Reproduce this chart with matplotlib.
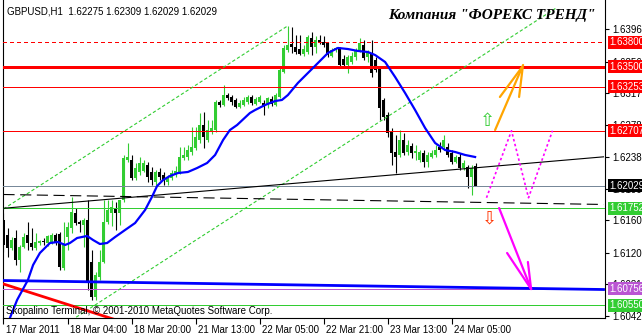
import numpy as np
import matplotlib
matplotlib.use("Agg")
import matplotlib.pyplot as plt
import matplotlib.transforms as mtransforms

plt.rcParams['font.family'] = ['Liberation Sans', 'DejaVu Sans']

# GBPUSD H1, bar 0 = 17 Mar 2011 12:00
opens = [1.61605, 1.61420, 1.61260, 1.61383, 1.61111, 1.61272, 1.61420, 1.61321, 1.61260, 1.61321,
         1.61346, 1.61321, 1.61334, 1.61420, 1.61432, 1.61013, 1.61395, 1.61506, 1.61692, 1.61581,
         1.61543, 1.61605, 1.61087, 1.60655, 1.60901, 1.61087, 1.61581, 1.61692, 1.61753, 1.61692,
         1.61852, 1.62346, 1.62346, 1.62124, 1.62198, 1.62210, 1.62284, 1.62198, 1.62074, 1.62198,
         1.62161, 1.62074, 1.62124, 1.62161, 1.62198, 1.62371, 1.62383, 1.62445, 1.62494, 1.62593,
         1.62778, 1.62593, 1.62692, 1.62716, 1.63062, 1.63025, 1.63148, 1.63124, 1.63087, 1.63000,
         1.63025, 1.63062, 1.63124, 1.63037, 1.63062, 1.63050, 1.63025, 1.63099, 1.63025, 1.63124,
         1.63432, 1.63704, 1.63778, 1.63741, 1.63716, 1.63655, 1.63679, 1.63852, 1.63741, 1.63827,
         1.63803, 1.63790, 1.63630, 1.63704, 1.63729, 1.63593, 1.63519, 1.63556, 1.63618, 1.63704,
         1.63766, 1.63618, 1.63667, 1.63581, 1.63482, 1.63087, 1.62902, 1.62692, 1.62445, 1.62408,
         1.62593, 1.62445, 1.62519, 1.62432, 1.62346, 1.62432, 1.62321, 1.62383, 1.62408, 1.62506,
         1.62506, 1.62506, 1.62432, 1.62321, 1.62383, 1.62247, 1.62260, 1.62136, 1.62275]
highs = [1.61692, 1.61506, 1.61395, 1.61482, 1.61297, 1.61445, 1.61581, 1.61506, 1.61445, 1.61358,
         1.61383, 1.61420, 1.61445, 1.61445, 1.61457, 1.61581, 1.61581, 1.61889, 1.61753, 1.61605,
         1.61630, 1.61852, 1.61235, 1.60963, 1.61235, 1.61852, 1.61852, 1.61852, 1.61827, 1.61852,
         1.62408, 1.62556, 1.62408, 1.62309, 1.62383, 1.62346, 1.62321, 1.62260, 1.62222, 1.62247,
         1.62198, 1.62161, 1.62222, 1.62272, 1.62506, 1.62506, 1.62531, 1.62753, 1.62753, 1.62926,
         1.62939, 1.62840, 1.62840, 1.63087, 1.63087, 1.63272, 1.63173, 1.63148, 1.63111, 1.63087,
         1.63124, 1.63148, 1.63148, 1.63124, 1.63148, 1.63087, 1.63124, 1.63136, 1.63173, 1.63494,
         1.63766, 1.64000, 1.63988, 1.63889, 1.63889, 1.63766, 1.63889, 1.63926, 1.63877, 1.63889,
         1.63877, 1.63803, 1.63729, 1.63741, 1.63741, 1.63642, 1.63642, 1.63679, 1.63729, 1.63852,
         1.63827, 1.63704, 1.63827, 1.63618, 1.63506, 1.63111, 1.62939, 1.62741, 1.62655, 1.62716,
         1.62679, 1.62593, 1.62556, 1.62531, 1.62469, 1.62469, 1.62445, 1.62469, 1.62531, 1.62568,
         1.62655, 1.62556, 1.62469, 1.62408, 1.62432, 1.62346, 1.62284, 1.62284, 1.62309]
lows = [1.61210, 1.61148, 1.61235, 1.61050, 1.60963, 1.61260, 1.61235, 1.61235, 1.61235, 1.61297,
        1.61297, 1.61284, 1.61309, 1.61297, 1.60988, 1.60988, 1.61235, 1.61445, 1.61543, 1.61457,
        1.61272, 1.60741, 1.60618, 1.60618, 1.60864, 1.61074, 1.61556, 1.61531, 1.61482, 1.61543,
        1.61827, 1.62321, 1.62099, 1.62099, 1.62161, 1.62198, 1.62074, 1.62037, 1.62037, 1.62099,
        1.62037, 1.62037, 1.62099, 1.62136, 1.62173, 1.62346, 1.62346, 1.62408, 1.62469, 1.62556,
        1.62494, 1.62568, 1.62667, 1.62692, 1.63000, 1.63013, 1.63087, 1.63025, 1.62988, 1.62988,
        1.63013, 1.63037, 1.63025, 1.63025, 1.63050, 1.62902, 1.62988, 1.63013, 1.63013, 1.63111,
        1.63420, 1.63679, 1.63667, 1.63655, 1.63642, 1.63630, 1.63655, 1.63642, 1.63667, 1.63778,
        1.63741, 1.63618, 1.63618, 1.63679, 1.63494, 1.63482, 1.63420, 1.63531, 1.63581, 1.63679,
        1.63581, 1.63556, 1.63371, 1.63432, 1.62840, 1.62840, 1.62630, 1.62284, 1.62185, 1.62383,
        1.62408, 1.62408, 1.62371, 1.62346, 1.62321, 1.62260, 1.62260, 1.62371, 1.62383, 1.62445,
        1.62469, 1.62383, 1.62297, 1.62309, 1.62222, 1.62222, 1.62000, 1.61914, 1.62029]
closes = [1.61297, 1.61260, 1.61358, 1.61111, 1.61272, 1.61395, 1.61321, 1.61272, 1.61334, 1.61346,
          1.61334, 1.61408, 1.61420, 1.61334, 1.61025, 1.61321, 1.61519, 1.61704, 1.61568, 1.61556,
          1.61605, 1.60827, 1.60655, 1.60926, 1.61087, 1.61581, 1.61729, 1.61766, 1.61692, 1.61852,
          1.62371, 1.62383, 1.62124, 1.62247, 1.62309, 1.62309, 1.62136, 1.62099, 1.62198, 1.62136,
          1.62099, 1.62124, 1.62185, 1.62210, 1.62383, 1.62408, 1.62469, 1.62506, 1.62630, 1.62778,
          1.62630, 1.62716, 1.62741, 1.63062, 1.63025, 1.63148, 1.63111, 1.63062, 1.63000, 1.63050,
          1.63087, 1.63124, 1.63050, 1.63099, 1.63124, 1.63000, 1.63111, 1.63037, 1.63148, 1.63457,
          1.63729, 1.63766, 1.63741, 1.63679, 1.63655, 1.63716, 1.63865, 1.63741, 1.63827, 1.63803,
          1.63766, 1.63642, 1.63704, 1.63729, 1.63519, 1.63519, 1.63618, 1.63630, 1.63704, 1.63790,
          1.63605, 1.63679, 1.63420, 1.63457, 1.62988, 1.62877, 1.62679, 1.62432, 1.62383, 1.62593,
          1.62432, 1.62531, 1.62432, 1.62457, 1.62445, 1.62321, 1.62408, 1.62432, 1.62469, 1.62469,
          1.62593, 1.62408, 1.62321, 1.62383, 1.62247, 1.62309, 1.62136, 1.62247, 1.62029]

# moving average (bar index, price)
ma_bar = [1.6, 3.4, 6.1, 7.4, 9.1, 11.6, 13.6, 15.4, 16.6, 18.4, 20.9, 22.4, 24.1, 25.9, 27.9,
          30.4, 32.9, 35.4, 37.1, 38.4, 39.9, 41.6, 43.6, 46.1, 48.4, 50.9, 52.9, 54.9, 56.6,
          58.4, 61.6, 62.9, 65.4, 67.9, 69.6, 71.1, 73.6, 76.1, 78.6, 81.1, 83.6, 86.1, 88.6,
          91.1, 92.9, 95.4, 97.9, 100.4, 102.9, 105.4, 107.9, 110.4, 112.9, 115.4, 117.9]
ma_val = [1.60395, 1.60618, 1.60864, 1.61050, 1.61198, 1.61321, 1.61334, 1.61297, 1.61321,
          1.61383, 1.61408, 1.61358, 1.61309, 1.61321, 1.61395, 1.61482, 1.61568, 1.61729,
          1.61889, 1.62025, 1.62099, 1.62148, 1.62185, 1.62198, 1.62247, 1.62309, 1.62408,
          1.62593, 1.62716, 1.62778, 1.62926, 1.62963, 1.63025, 1.63074, 1.63087, 1.63148,
          1.63297, 1.63420, 1.63543, 1.63667, 1.63729, 1.63716, 1.63692, 1.63679, 1.63642,
          1.63556, 1.63371, 1.63173, 1.62963, 1.62741, 1.62556, 1.62469, 1.62445, 1.62408, 1.62383]

# trend lines: ((bar, price), (bar, price))
chan_upper = [(0, 1.61741), (71, 1.64000)]
chan_lower = [(17, 1.60368), (138, 1.64217)]
trend_black = [(0, 1.61750), (150, 1.62385)]
trend_dashed = [(0, 1.61920), (150, 1.61797)]
trend_red = [(0, 1.60815), (30, 1.60342)]
trend_blue = [(0, 1.60858), (150, 1.60747)]

# forecast drawings
zigzag_bar = [120.75, 127, 131.25, 137.25]
zigzag_val = [1.6188, 1.62707, 1.6188, 1.62707]
up_arrow = [[(122.9, 1.62716), (129.9, 1.63519)],
            [(124.1, 1.63124), (129.6, 1.63490)],
            [(128.9, 1.63124), (129.8, 1.63490)]]
down_arrow = [[(123.9, 1.61753), (131.9, 1.60753)],
              [(125.9, 1.61198), (131.9, 1.60753)],
              [(131.1, 1.61087), (131.9, 1.60753)]]

levels = [1.63800, 1.63500, 1.63253, 1.62707, 1.62029, 1.61752, 1.60756, 1.60550]
level_colors = ['#ff0000', '#ff0000', '#ff0000', '#ff0000', '#778899', '#32cd32', '#ba55d3', '#32cd32']
label_bg = ['#ff0000', '#ff0000', '#ff0000', '#ff0000', '#000000', '#32cd32', '#ba55d3', '#32cd32']

ytick_vals = [1.6396, 1.6356, 1.6317, 1.6278, 1.6238, 1.6199, 1.6160, 1.6120, 1.6081, 1.6042]
xtick_bars = [0, 16, 32, 48, 64, 80, 96, 112]
xtick_labels = ['17 Mar 2011', '18 Mar 04:00', '18 Mar 20:00', '21 Mar 13:00',
                '22 Mar 05:00', '22 Mar 21:00', '23 Mar 13:00', '24 Mar 05:00']

W, H = 642, 336
fig = plt.figure(figsize=(W / 100, H / 100), dpi=100)
ax = fig.add_axes([3 / W, 18 / H, 602 / W, 318 / H])
ax.set_xlim(-0.125, 150.375)
ax.set_ylim(1.603953, 1.643212)

o = np.array(opens); h = np.array(highs); l = np.array(lows); c = np.array(closes)
x = np.arange(len(o))
up = c >= o
col = np.where(up, '#32cd32', '#000000')

# horizontal levels
for lv, lc in zip(levels, level_colors):
    lw = 2.1 if lv == 1.63500 else 0.7
    ls = (0, (4, 4)) if lv == 1.63800 else '-'
    ax.axhline(lv, color=lc, lw=lw, ls=ls, zorder=4, antialiased=False)

# candles
ax.vlines(x, l, h, colors=col, lw=0.8, zorder=2)
ax.bar(x, np.maximum(np.abs(c - o), 1.2e-4), bottom=np.minimum(o, c), width=0.75,
       color=col, lw=0, zorder=3)

def seg(pts, **kw):
    ax.plot([p[0] for p in pts], [p[1] for p in pts], **kw)

seg(chan_upper, color='#32cd32', lw=0.8, ls=(0, (3, 2)), zorder=4)
seg(chan_lower, color='#32cd32', lw=0.8, ls=(0, (3, 2)), zorder=4)
seg(trend_black, color='black', lw=0.8, zorder=4)
seg(trend_dashed, color='black', lw=0.8, ls=(0, (10, 5)), zorder=4)
seg(trend_red, color='#ff0000', lw=2.0, zorder=4)
seg(trend_blue, color='#0000ff', lw=2.0, zorder=4)

ax.plot(ma_bar, ma_val, color='#0000ff', lw=1.6, zorder=5)

ax.plot(zigzag_bar, zigzag_val, color='#ff00ff', lw=1.2, ls=(0, (1.5, 1.5)), zorder=5)
for s in up_arrow:
    seg(s, color='#ffa500', lw=1.6, zorder=5, solid_capstyle='round')
for s in down_arrow:
    seg(s, color='#ff00ff', lw=1.6, zorder=5, solid_capstyle='round')

ax.text(121, 1.62827, '\u21e7', color='#33cc33', fontsize=13, family='DejaVu Sans',
        ha='center', va='center', zorder=6)
ax.text(121.4, 1.61618, '\u21e9', color='#ff3300', fontsize=13, family='DejaVu Sans',
        ha='center', va='center', zorder=6)

# axes styling
ax.spines['top'].set_visible(False)
for side in ['left', 'right', 'bottom']:
    ax.spines[side].set_linewidth(0.8)
ax.yaxis.tick_right()
ax.set_yticks(ytick_vals)
ax.set_yticklabels(['%.5f' % v for v in ytick_vals])
ax.tick_params(axis='y', length=3, width=0.8, labelsize=7, pad=2)
ax.set_xticks(xtick_bars)
ax.set_xticklabels(xtick_labels)
ax.tick_params(axis='x', length=4, width=0.8, labelsize=7, pad=1)
shift = mtransforms.ScaledTranslation(2 / 72, 0, fig.dpi_scale_trans)
for lbl in ax.get_xticklabels():
    lbl.set_ha('left')
    lbl.set_transform(lbl.get_transform() + shift)

# price labels on the right
trans = mtransforms.blended_transform_factory(ax.transAxes, ax.transData)
for lv, bg in zip(levels, label_bg):
    ax.text(1.0 + 4 / 602, lv, '%.5f' % lv, transform=trans, ha='left', va='center',
            fontsize=7, color='white', zorder=7,
            bbox=dict(boxstyle='square,pad=0.15', fc=bg, ec='none'))

fig.text(7 / W, 1 - 11 / H, 'GBPUSD,H1  1.62275 1.62309 1.62029 1.62029',
         fontsize=7, ha='left', va='center')
fig.text(596 / W, 1 - 15 / H, 'Компания "ФОРЕКС ТРЕНД"', family='Liberation Serif',
         weight='bold', style='italic', fontsize=11, ha='right', va='center')
fig.text(6 / W, 1 - 311 / H, 'Skopalino Terminal, \u00a9 2001-2010 MetaQuotes Software Corp.',
         fontsize=7, ha='left', va='center')

fig.savefig('out.png', dpi=100)
